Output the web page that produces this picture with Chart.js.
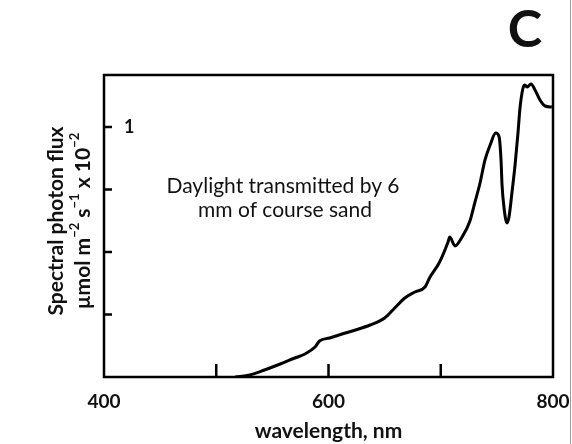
<!DOCTYPE html>
<html>
<head>
<meta charset="utf-8">
<script src="https://cdn.jsdelivr.net/npm/chart.js@4.4.1/dist/chart.umd.min.js"></script>
<style>
  html, body { margin: 0; padding: 0; background: #fff; }
  #wrap { position: relative; width: 572px; height: 444px; }
</style>
</head>
<body>
<div id="wrap"><canvas id="c" width="572" height="444"></canvas></div>
<script>
// Wavelength (nm) and spectral photon flux (µmol m-2 s-1 x 10-2)
const wavelengths = [517, 530, 543, 557, 570, 579, 588, 592, 601, 615, 624, 637, 650, 659, 668, 677,
  686, 690, 699, 706.5, 708, 712.7, 719, 726, 730.5, 735, 739.4, 744, 749, 752, 753.7, 754.6,
  756.4, 759, 760.8, 763.5, 766.2, 768.8, 770.6, 773.3, 775, 777, 780.4, 784, 788.4, 793, 799];
const flux = [0, 0.008, 0.028, 0.052, 0.076, 0.092, 0.12, 0.144, 0.156, 0.176, 0.188, 0.208, 0.236, 0.276, 0.316, 0.34,
  0.36, 0.396, 0.46, 0.54, 0.56, 0.524, 0.56, 0.624, 0.70, 0.776, 0.868, 0.928, 0.976, 0.96, 0.868, 0.768,
  0.676, 0.616, 0.64, 0.74, 0.848, 0.976, 1.076, 1.156, 1.168, 1.16, 1.172, 1.148, 1.108, 1.084, 1.08];

const xTicks = [400, 500, 600, 700, 800];
const xTickLabels = ['400', '', '600', '', '800'];
const yTicks = [0, 0.25, 0.5, 0.75, 1];
const yTickLabels = ['', '', '', '', '1'];

const xTitle = 'wavelength, nm';
// y title: second line is split into [text, superscript] pieces
const yTitleLine1 = 'Spectral photon flux';
const yTitleLine2 = [['µmol m', '−2'], [' s', '−1'], [' x 10', '−2']];
const note = ['Daylight transmitted by 6', 'mm of course sand'];
const panelLetter = 'C';

const FONT = 'Lato, "Open Sans", "DejaVu Sans", sans-serif';

function drawRichLine(ctx, parts, cx, cy, size) {
  const base = 'bold ' + size + 'px ' + FONT;
  const sup = 'bold ' + Math.round(size * 0.62) + 'px ' + FONT;
  let total = 0;
  parts.forEach(([t, s]) => {
    ctx.font = base; total += ctx.measureText(t).width;
    ctx.font = sup; total += ctx.measureText(s).width;
  });
  let x = cx - total / 2;
  ctx.textAlign = 'left';
  parts.forEach(([t, s]) => {
    ctx.font = base; ctx.fillText(t, x, cy); x += ctx.measureText(t).width;
    ctx.font = sup; ctx.fillText(s, x, cy - size * 0.38); x += ctx.measureText(s).width;
  });
}

// frame, inward tick marks, axis title, annotation text and panel letter
const decorations = {
  id: 'decorations',
  afterDraw(chart) {
    const ctx = chart.ctx;
    const a = chart.chartArea;
    const xs = chart.scales.x, ys = chart.scales.y;
    ctx.save();
    ctx.strokeStyle = '#000';
    ctx.lineWidth = 2.5;
    ctx.lineCap = 'butt';
    ctx.strokeRect(a.left, a.top, a.right - a.left, a.bottom - a.top);
    ctx.beginPath();
    xTicks.forEach(v => {
      const px = xs.getPixelForValue(v);
      if (v > xs.min && v < xs.max) { ctx.moveTo(px, a.bottom); ctx.lineTo(px, a.bottom - 13); }
    });
    yTicks.forEach(v => {
      const py = ys.getPixelForValue(v);
      if (v > ys.min) { ctx.moveTo(a.left, py); ctx.lineTo(a.left + 8, py); }
    });
    ctx.stroke();

    // thin figure edge on the right
    ctx.strokeStyle = '#9a9a9a';
    ctx.lineWidth = 1;
    ctx.beginPath();
    ctx.moveTo(570.5, 0); ctx.lineTo(570.5, chart.height);
    ctx.stroke();

    ctx.fillStyle = '#111';
    ctx.textBaseline = 'middle';

    // rotated y-axis title
    const cyTitle = (a.top + a.bottom) / 2 + 70;
    ctx.save();
    ctx.translate(56, 221);
    ctx.rotate(-Math.PI / 2);
    ctx.textAlign = 'center';
    ctx.font = 'bold 21px ' + FONT;
    ctx.fillText(yTitleLine1, 0, 0);
    drawRichLine(ctx, yTitleLine2, 0, 27, 21);
    ctx.restore();

    ctx.textAlign = 'center';
    ctx.font = '21px ' + FONT;
    ctx.fillText(note[0], 283, 186);
    ctx.fillText(note[1], 285, 210);

    ctx.font = 'bold 52px ' + FONT;
    ctx.fillText(panelLetter, 525, 30);
    ctx.restore();
  }
};

new Chart(document.getElementById('c'), {
  type: 'line',
  data: {
    datasets: [{
      data: wavelengths.map((w, i) => ({ x: w, y: flux[i] })),
      borderColor: '#000',
      borderWidth: 3,
      pointRadius: 0,
      cubicInterpolationMode: 'monotone',
      fill: false
    }]
  },
  options: {
    responsive: false,
    animation: false,
    events: [],
    layout: { padding: { left: 0, top: 75, right: 19, bottom: 0 } },
    plugins: { legend: { display: false }, tooltip: { enabled: false } },
    scales: {
      x: {
        type: 'linear',
        min: 400, max: 800,
        afterFit: s => { s.height = 67; s.paddingLeft = 0; s.paddingRight = 0; },
        afterBuildTicks: s => { s.ticks = xTicks.map(v => ({ value: v })); },
        grid: { display: false, drawTicks: false },
        border: { display: false },
        ticks: {
          padding: 13,
          color: '#111',
          font: { family: FONT, size: 19, weight: 'bold' },
          maxRotation: 0,
          autoSkip: false,
          callback: (v) => xTickLabels[xTicks.indexOf(v)] ?? ''
        },
        title: {
          display: true,
          text: xTitle,
          color: '#111',
          font: { family: FONT, size: 21, weight: 'bold' },
          padding: { top: 0, bottom: 0 }
        }
      },
      y: {
        type: 'linear',
        min: 0, max: 1.208,
        afterFit: s => { s.width = 104; s.paddingTop = 0; s.paddingBottom = 0; },
        afterBuildTicks: s => { s.ticks = yTicks.map(v => ({ value: v })); },
        grid: { display: false, drawTicks: false },
        border: { display: false },
        ticks: {
          mirror: true,
          padding: 20,
          color: '#111',
          font: { family: FONT, size: 18, weight: 'bold' },
          callback: (v) => yTickLabels[yTicks.indexOf(v)] ?? ''
        }
      }
    }
  },
  plugins: [decorations]
});
</script>
</body>
</html>
